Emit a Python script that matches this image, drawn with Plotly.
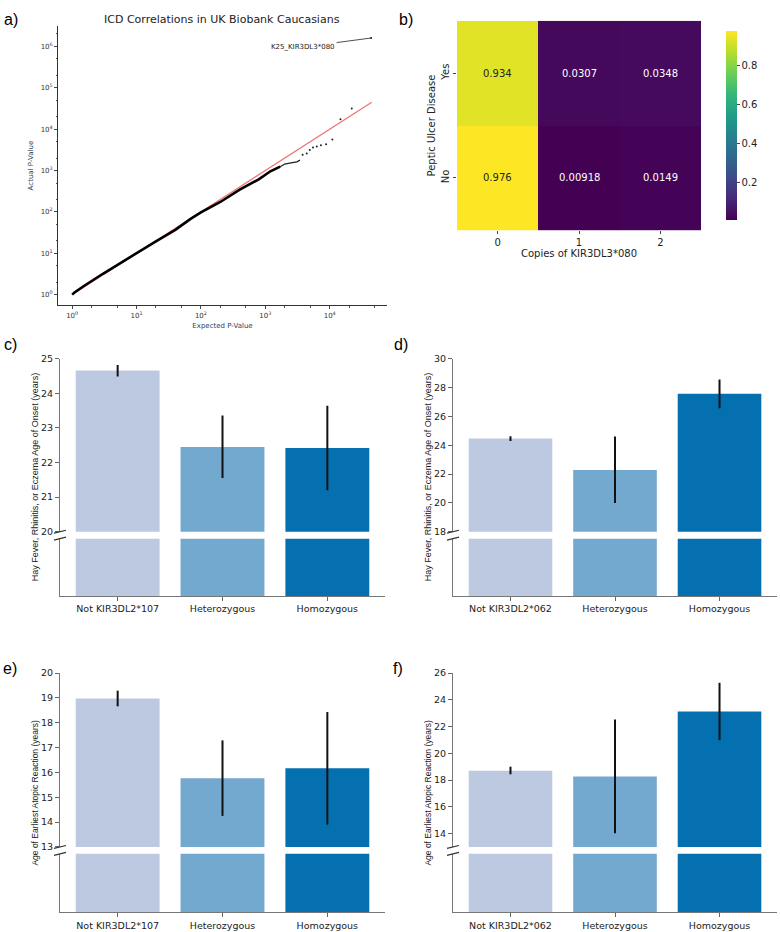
import plotly.graph_objects as go

W, H = 780, 932

# panel a: QQ plot of ICD correlations
qq_expected = [1.0, 1.1, 1.5, 2, 3, 5, 10, 20, 40, 70, 100, 200, 400, 800, 1200, 1700]
qq_actual = [1.0, 1.15, 1.6, 2.15, 3.2, 5.2, 10.2, 19.5, 37, 69, 97, 174, 345, 620, 960, 1240]
mid_expected = [1700, 2000, 2500, 3100, 3450]
mid_actual = [1240, 1440, 1530, 1630, 1790]
tail_expected = [22000, 14700, 11000, 8800, 7300, 6300, 5500, 4900, 4400, 3800]
tail_actual = [31600, 17400, 5600, 4330, 4100, 3800, 3600, 3150, 2600, 2400]
top_expected = 44000
top_actual = 1.6e6
top_label = "K25_KIR3DL3*080"
ref_line = [1, 45000]
log_ticks = [0, 1, 2, 3, 4, 5, 6]

# panel b: heatmap
copies = [0, 1, 2]
copies_labels = ["0", "1", "2"]
ulcer = ["No", "Yes"]
freq = [[0.976, 0.00918, 0.0149],
        [0.934, 0.0307, 0.0348]]

# panels c-f: bars with broken axis
groups_107 = ["Not KIR3DL2*107", "Heterozygous", "Homozygous"]
groups_062 = ["Not KIR3DL2*062", "Heterozygous", "Homozygous"]
bar_colors = ["#bdc9e1", "#74a9cf", "#0570b0"]

c_mean = [24.66, 22.45, 22.42]
c_low = [24.49, 21.55, 21.20]
c_high = [24.82, 23.36, 23.64]

d_mean = [24.47, 22.28, 27.58]
d_low = [24.29, 19.99, 26.57]
d_high = [24.63, 24.60, 28.56]

e_mean = [18.97, 15.77, 16.17]
e_low = [18.66, 14.25, 13.90]
e_high = [19.29, 17.29, 18.43]

f_mean = [18.70, 18.27, 23.12]
f_low = [18.43, 14.02, 20.98]
f_high = [19.00, 22.52, 25.27]

onset_title = "Hay Fever, Rhinitis, or Eczema Age of Onset (years)"
atopic_title = "Age of Earliest Atopic Reaction (years)"


def fx(px):
    return px / W


def fy(py):
    return 1 - py / H


def note(px, py, text, size, family="DejaVu Sans", color="#222", angle=0):
    annotations.append(dict(x=fx(px), y=fy(py), xref="paper", yref="paper", text=text,
                            showarrow=False, xanchor="center", yanchor="middle",
                            textangle=angle, font=dict(family=family, size=size, color=color)))


fig = go.Figure()
layout = {}
annotations = []
shapes = []
TICKFONT = dict(family="DejaVu Sans", size=9.5, color="#222")

# ---------- a) ----------
fig.add_trace(go.Scatter(x=ref_line, y=ref_line, mode="lines",
                         line=dict(color="#f07070", width=1.2),
                         xaxis="x", yaxis="y", showlegend=False))
fig.add_trace(go.Scatter(x=qq_expected, y=qq_actual, mode="lines",
                         line=dict(color="black", width=2.6),
                         xaxis="x", yaxis="y", showlegend=False))
fig.add_trace(go.Scatter(x=mid_expected, y=mid_actual, mode="lines",
                         line=dict(color="#222", width=1.3),
                         xaxis="x", yaxis="y", showlegend=False))
fig.add_trace(go.Scatter(x=tail_expected + [top_expected], y=tail_actual + [top_actual],
                         mode="markers", marker=dict(color="#222", size=2),
                         xaxis="x", yaxis="y", showlegend=False))
pow_text = ["10<sup>%d</sup>" % t for t in log_ticks]
layout["xaxis"] = dict(domain=[fx(58), fx(387)], anchor="y", type="log",
                       range=[-0.22, 4.89], tickvals=[10 ** t for t in log_ticks[:5]],
                       ticktext=pow_text[:5], ticks="outside", ticklen=3,
                       showline=True, linecolor="#333", linewidth=0.8, showgrid=False,
                       zeroline=False, tickfont=dict(family="DejaVu Sans", size=7, color="#333"),
                       minor=dict(ticks="outside", ticklen=1.5, tickcolor="#555", showgrid=False),
                       title=dict(text="Expected P-Value", font=dict(family="DejaVu Sans", size=7), standoff=4))
layout["yaxis"] = dict(domain=[fy(303), fy(20)], anchor="x", type="log",
                       range=[-0.26, 6.5], tickvals=[10 ** t for t in log_ticks],
                       ticktext=pow_text, ticks="outside", ticklen=3,
                       showline=True, linecolor="#333", linewidth=0.8, showgrid=False,
                       zeroline=False, tickfont=dict(family="DejaVu Sans", size=7, color="#333"),
                       minor=dict(ticks="outside", ticklen=1.5, tickcolor="#555", showgrid=False),
                       title=dict(text="Actual P-Value", font=dict(family="DejaVu Sans", size=7), standoff=6))
annotations.append(dict(x=4.6435, y=6.204, xref="x", yref="y", text=top_label,
                        showarrow=True, arrowhead=0, arrowwidth=0.8, arrowcolor="#222",
                        ax=-68, ay=9, font=dict(family="DejaVu Sans", size=7, color="#222")))
note(222, 14, "ICD Correlations in UK Biobank Caucasians", 11)

# ---------- b) ----------
fig.add_trace(go.Heatmap(z=freq, x=copies, y=ulcer, colorscale="Viridis",
                         zmin=0.00918, zmax=0.976, xaxis="x2", yaxis="y2",
                         colorbar=dict(x=fx(716), xanchor="left", y=fy(121), yanchor="middle",
                                       len=212 / H, lenmode="fraction", thickness=11,
                                       thicknessmode="pixels", outlinewidth=0,
                                       tickvals=[0.2, 0.4, 0.6, 0.8], ticks="outside",
                                       ticklen=3, tickfont=dict(family="DejaVu Sans", size=10, color="#222"))))
for r, row in enumerate(freq):
    for c, v in enumerate(row):
        annotations.append(dict(x=copies[c], y=ulcer[r], xref="x2", yref="y2",
                                text="%.3g" % v, showarrow=False,
                                font=dict(family="DejaVu Sans", size=10,
                                          color="#262626" if v > 0.5 else "white")))
layout["xaxis2"] = dict(domain=[fx(457), fx(701)], anchor="y2", tickvals=copies,
                        ticktext=copies_labels, ticks="outside", ticklen=3, showline=False,
                        showgrid=False, zeroline=False, range=[-0.5, 2.5],
                        tickfont=dict(family="DejaVu Sans", size=10, color="#222"),
                        title=dict(text="Copies of KIR3DL3*080", standoff=2,
                                   font=dict(family="DejaVu Sans", size=10, color="#222")))
layout["yaxis2"] = dict(domain=[fy(227), fy(15)], anchor="x2", ticks="outside", ticklen=3,
                        tickangle=-90, showline=False, showgrid=False, zeroline=False,
                        tickfont=dict(family="DejaVu Sans", size=10, color="#222"),
                        title=dict(text="Peptic Ulcer Disease", standoff=2,
                                   font=dict(family="DejaVu Sans", size=10, color="#222")))


# ---------- c) to f) ----------
def bar_panel(n, groups, mean, low, high, left, right, top, brk, bottom, yrange, ytick, ytitle):
    up, lo = n, n + 1
    xu, yu = "x%d" % up, "y%d" % up
    xl, yl = "x%d" % lo, "y%d" % lo
    xs = list(range(len(groups)))
    fig.add_trace(go.Bar(x=xs, y=mean, marker=dict(color=bar_colors, line=dict(width=0)),
                         width=0.8, xaxis=xu, yaxis=yu, showlegend=False,
                         error_y=dict(type="data", symmetric=False,
                                      array=[h - m for h, m in zip(high, mean)],
                                      arrayminus=[m - l for m, l in zip(mean, low)],
                                      width=0, thickness=2, color="#111")))
    fig.add_trace(go.Bar(x=xs, y=mean, marker=dict(color=bar_colors, line=dict(width=0)),
                         width=0.8, xaxis=xl, yaxis=yl, showlegend=False))
    xr = [-0.55, 2.55]
    layout["xaxis%d" % up] = dict(domain=[fx(left), fx(right)], anchor=yu, range=xr,
                                  showticklabels=False, ticks="", showline=False,
                                  showgrid=False, zeroline=False)
    layout["yaxis%d" % up] = dict(domain=[fy(brk - 7), fy(top)], anchor=xu, range=yrange,
                                  tickvals=ytick, ticks="outside", ticklen=4, tickcolor="#666",
                                  showline=True, linecolor="#777", linewidth=1.2,
                                  showgrid=False, zeroline=False, tickfont=TICKFONT)
    layout["xaxis%d" % lo] = dict(domain=[fx(left), fx(right)], anchor=yl, range=xr,
                                  tickvals=xs, ticktext=groups, ticks="outside", ticklen=4,
                                  tickcolor="#666", showline=True, linecolor="#777",
                                  linewidth=1.2, showgrid=False, zeroline=False, tickfont=TICKFONT)
    layout["yaxis%d" % lo] = dict(domain=[fy(bottom), fy(brk)], anchor=xl, range=[0, 1],
                                  showticklabels=False, ticks="", showline=True,
                                  linecolor="#777", linewidth=1.2, showgrid=False, zeroline=False)
    for yy in (brk - 7, brk):
        shapes.append(dict(type="line", xref="paper", yref="paper",
                           x0=fx(left - 6), x1=fx(left + 6), y0=fy(yy + 1.5), y1=fy(yy - 1.5),
                           line=dict(color="#333", width=1.2)))
    note(left - 25, (top + bottom) / 2, ytitle, 9 if n < 7 else 8.5,
         family="Liberation Sans", angle=-90)


bar_panel(3, groups_107, c_mean, c_low, c_high, 60, 385, 357, 539, 597,
          [20, 25], [20, 21, 22, 23, 24, 25], onset_title)
bar_panel(5, groups_062, d_mean, d_low, d_high, 453, 777, 357, 539, 597,
          [18, 30], [18, 20, 22, 24, 26, 28, 30], onset_title)
bar_panel(7, groups_107, e_mean, e_low, e_high, 60, 385, 675, 858, 917,
          [13, 20], [13, 14, 15, 16, 17, 18, 19, 20], atopic_title)
bar_panel(9, groups_062, f_mean, f_low, f_high, 453, 777, 675, 858, 917,
          [13, 26], [14, 16, 18, 20, 22, 24, 26], atopic_title)

# panel letters
for lab, px, py in [("a)", 11, 14), ("b)", 406, 14), ("c)", 10, 343),
                    ("d)", 401, 343), ("e)", 10, 670), ("f)", 398, 670)]:
    note(px, py, lab, 16, family="Liberation Sans", color="black")

fig.update_layout(width=W, height=H, margin=dict(l=0, r=0, t=0, b=0),
                  paper_bgcolor="white", plot_bgcolor="white", bargap=0.2,
                  annotations=annotations, shapes=shapes, **layout)
fig.write_html("out.html", config={"displayModeBar": False},
               post_script="document.body.style.margin='0px';")
